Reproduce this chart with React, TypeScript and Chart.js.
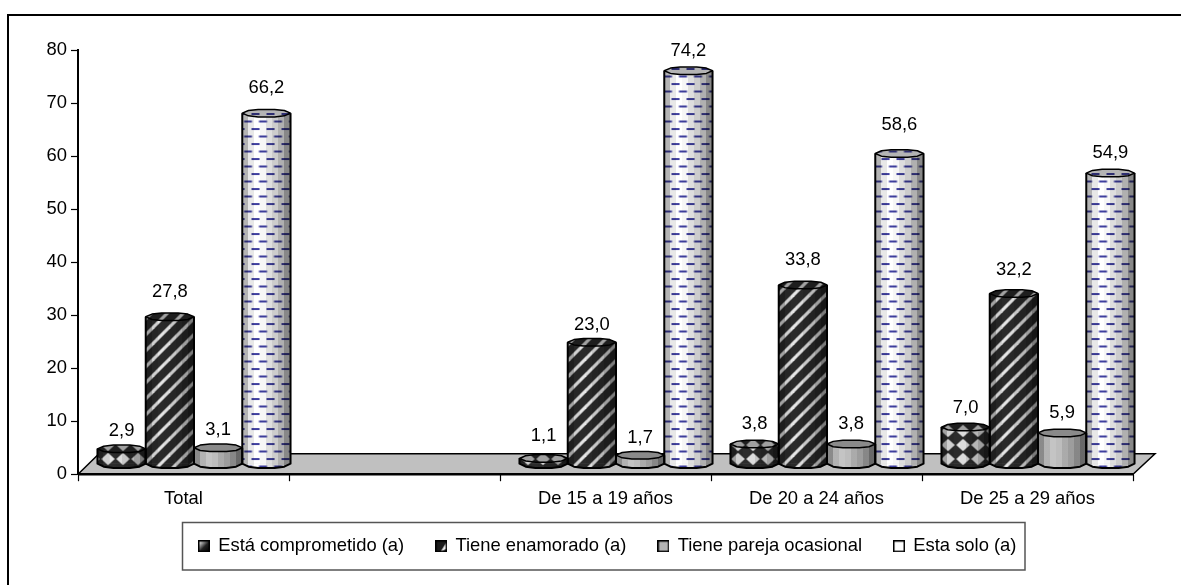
import React, { useEffect, useRef } from "react";
import { Chart, registerables } from "chart.js";

Chart.register(...registerables);

const categories = ["Total", "", "De 15 a 19 años", "De 20 a 24 años", "De 25 a 29 años"];
const comprometido = [2.9, null, 1.1, 3.8, 7.0];
const enamorado = [27.8, null, 23.0, 33.8, 32.2];
const ocasional = [3.1, null, 1.7, 3.8, 5.9];
const solo = [66.2, null, 74.2, 58.6, 54.9];
const seriesNames = ["Está comprometido (a)", "Tiene enamorado (a)", "Tiene pareja ocasional", "Esta solo (a)"];
const yTicks = [0, 10, 20, 30, 40, 50, 60, 70, 80];

const FONT = '"Liberation Sans", Arial, sans-serif';
const FONT_SIZE = 18.4;
const SHIFT_X = 10.5;
const SHIFT_Y = -10;
const RIM = 4;
// Excel places each value label a slightly different distance above its column.
const labelLift = [
  [18, 0, 22, 20, 19],
  [25, 0, 17, 25, 24],
  [18, 0, 17, 20, 20],
  [25, 0, 20, 29, 20],
];
const facets = ["#b4b4b4", "#e8e8e8", "#ffffff", "#f6f6f6", "#dedede", "#cccccc", "#b0b0b0", "#888888"];
const RIM_ANGLES = [0, 42, 70, 110, 138, 180, 222, 250, 290, 318];
const LOWER_ANGLES = [180, 138, 110, 70, 42, 0];

function tile(w: number, h: number, paint: (c: CanvasRenderingContext2D) => void) {
  const el = document.createElement("canvas");
  el.width = w;
  el.height = h;
  paint(el.getContext("2d") as CanvasRenderingContext2D);
  return el;
}

function makePatterns(ctx: CanvasRenderingContext2D) {
  const diamonds = tile(15, 14, (c) => {
    c.fillStyle = "#2c2c2c";
    c.fillRect(0, 0, 15, 14);
    c.fillStyle = "#e4e4e4";
    c.beginPath();
    c.moveTo(7.5, 0.8);
    c.lineTo(14.2, 7);
    c.lineTo(7.5, 13.2);
    c.lineTo(0.8, 7);
    c.closePath();
    c.fill();
  });
  const stripes = tile(16, 16, (c) => {
    c.fillStyle = "#2a2a2a";
    c.fillRect(0, 0, 16, 16);
    c.strokeStyle = "#e6e6e6";
    c.lineWidth = 3.2;
    for (const o of [-16, 0, 16]) {
      c.beginPath();
      c.moveTo(o - 2, 18);
      c.lineTo(o + 18, -2);
      c.stroke();
    }
  });
  const plain = tile(4, 4, (c) => {
    c.fillStyle = "#c4c4c4";
    c.fillRect(0, 0, 4, 4);
  });
  const dashes = tile(15, 15, (c) => {
    c.fillStyle = "#ffffff";
    c.fillRect(0, 0, 15, 15);
    c.fillStyle = "#3f3f9f";
    c.fillRect(1, 3, 8, 2);
    c.fillRect(8.5, 10.5, 6.5, 2);
    c.fillRect(0, 10.5, 1.5, 2);
  });
  return [diamonds, stripes, plain, dashes].map((t) => ctx.createPattern(t, "repeat") as CanvasPattern);
}

function makeIcons() {
  const box = (paint: (c: CanvasRenderingContext2D) => void) =>
    tile(12, 12, (c) => {
      paint(c);
      c.strokeStyle = "#000";
      c.lineWidth = 1.5;
      c.strokeRect(0.75, 0.75, 10.5, 10.5);
    });
  return [
    box((c) => {
      const g = c.createLinearGradient(1, 1, 11, 11);
      g.addColorStop(0, "#ffffff");
      g.addColorStop(0.55, "#222222");
      g.addColorStop(1, "#000000");
      c.fillStyle = g;
      c.fillRect(0, 0, 12, 12);
    }),
    box((c) => {
      c.fillStyle = "#1c1c1c";
      c.fillRect(0, 0, 12, 12);
      c.fillStyle = "#eeeeee";
      c.beginPath();
      c.moveTo(12, 1);
      c.lineTo(12, 8);
      c.lineTo(5, 12);
      c.closePath();
      c.fill();
    }),
    box((c) => {
      c.fillStyle = "#b4b4b4";
      c.fillRect(0, 0, 12, 12);
    }),
    box((c) => {
      c.fillStyle = "#ffffff";
      c.fillRect(0, 0, 12, 12);
    }),
  ];
}

function around(cx: number, cy: number, rx: number, ry: number, degrees: number[]) {
  return degrees.map((d) => {
    const a = (d * Math.PI) / 180;
    return [cx + rx * Math.cos(a), cy + ry * Math.sin(a)] as [number, number];
  });
}

export default function App() {
  const ref = useRef<HTMLCanvasElement>(null);

  useEffect(() => {
    const canvas = ref.current as HTMLCanvasElement;
    const ctx = canvas.getContext("2d") as CanvasRenderingContext2D;
    const patterns = makePatterns(ctx);
    const icons = makeIcons();

    const cylinders = {
      id: "cylinders",
      beforeDraw(chart: any) {
        const c = chart.ctx;
        c.save();
        c.strokeStyle = "#000";
        c.lineWidth = 2;
        c.beginPath();
        c.moveTo(8, 585);
        c.lineTo(8, 15);
        c.lineTo(1181, 15);
        c.stroke();
        c.strokeStyle = "#555";
        c.lineWidth = 1.5;
        c.strokeRect(182.5, 522.5, 842.5, 47.5);
        c.restore();
      },
      afterLayout(chart: any) {
        chart.legend.left = 167;
        chart.legend.top = 505;
      },
      beforeDatasetsDraw(chart: any) {
        const c = chart.ctx;
        const { left, right, bottom } = chart.chartArea;
        c.save();
        c.fillStyle = "#c0c0c0";
        c.beginPath();
        c.moveTo(left, bottom);
        c.lineTo(left + 21, bottom - 20.5);
        c.lineTo(right + 22, bottom - 20.5);
        c.lineTo(right, bottom);
        c.closePath();
        c.fill();
        c.strokeStyle = "#000";
        c.lineWidth = 1.5;
        c.stroke();
        c.lineWidth = 2.5;
        c.beginPath();
        c.moveTo(left, bottom);
        c.lineTo(right, bottom);
        c.stroke();
        c.restore();
        c.save();
        c.translate(SHIFT_X, SHIFT_Y);
      },
      afterDatasetsDraw(chart: any) {
        const c = chart.ctx;
        chart.data.datasets.forEach((ds: any, di: number) => {
          const meta = chart.getDatasetMeta(di);
          meta.data.forEach((bar: any, i: number) => {
            if (ds.data[i] == null) return;
            const rx = bar.width / 2;
            const x0 = bar.x - rx;
            const x1 = bar.x + rx;
            const top = bar.y;
            const base = bar.base;
            const lower = around(bar.x, base, rx, RIM + 0.5, LOWER_ANGLES);

            const trace = () => {
              c.moveTo(x0, top);
              lower.forEach(([px, py]) => c.lineTo(px, py));
              c.lineTo(x1, top);
            };

            c.save();
            // lower front edge of the column carries the same fill as the bar
            c.fillStyle = patterns[di];
            c.beginPath();
            c.moveTo(x0, base - 0.5);
            lower.forEach(([px, py]) => c.lineTo(px, py));
            c.lineTo(x1, base - 0.5);
            c.closePath();
            c.fill();

            // faceted shading
            const g = c.createLinearGradient(x0, 0, x1, 0);
            facets.forEach((col, f) => {
              g.addColorStop(f / facets.length, col);
              g.addColorStop((f + 1) / facets.length - 0.001, col);
            });
            c.globalCompositeOperation = "multiply";
            c.fillStyle = g;
            c.beginPath();
            trace();
            c.closePath();
            c.fill();
            c.globalCompositeOperation = "source-over";

            // side outline and lower edge
            c.strokeStyle = "#000";
            c.lineWidth = 2;
            c.lineJoin = "round";
            c.beginPath();
            trace();
            c.stroke();

            // top rim
            const rimPath = () => {
              c.beginPath();
              around(bar.x, top, rx, RIM, RIM_ANGLES).forEach(([px, py], p) =>
                p ? c.lineTo(px, py) : c.moveTo(px, py)
              );
              c.closePath();
            };
            c.fillStyle = patterns[di];
            rimPath();
            c.fill();
            c.globalCompositeOperation = "multiply";
            c.fillStyle = "#b4b4b4";
            rimPath();
            c.fill();
            c.globalCompositeOperation = "source-over";
            c.lineWidth = 1.5;
            rimPath();
            c.stroke();
            c.restore();
          });
        });
        c.restore();

        // value labels
        c.save();
        c.font = `${FONT_SIZE}px ${FONT}`;
        c.fillStyle = "#000";
        c.textAlign = "center";
        c.textBaseline = "middle";
        chart.data.datasets.forEach((ds: any, di: number) => {
          const meta = chart.getDatasetMeta(di);
          meta.data.forEach((bar: any, i: number) => {
            const v = ds.data[i];
            if (v == null) return;
            c.fillText(
              v.toFixed(1).replace(".", ","),
              bar.x + SHIFT_X,
              bar.y + SHIFT_Y - labelLift[di][i]
            );
          });
        });
        c.restore();
      },
    };

    const seriesValues = [comprometido, enamorado, ocasional, solo];
    const chart = new Chart(ctx, {
      type: "bar",
      data: {
        labels: categories,
        datasets: seriesValues.map((data, i) => ({
          label: seriesNames[i],
          data,
          backgroundColor: patterns[i],
          borderWidth: 0,
          barPercentage: 1,
          categoryPercentage: 0.915,
          clip: false,
        })),
      } as any,
      plugins: [cylinders],
      options: {
        responsive: false,
        animation: false,
        events: [],
        layout: { autoPadding: false, padding: { left: 0, right: 48, top: 50, bottom: 14.4 } },
        scales: {
          x: {
            offset: true,
            afterFit: (s: any) => {
              s.height = 36;
            },
            border: { display: true, color: "#000", width: 2 },
            grid: {
              display: true,
              offset: true,
              drawOnChartArea: false,
              drawTicks: true,
              tickLength: 7,
              tickColor: "#000",
              tickWidth: 1.2,
            },
            ticks: { color: "#000", font: { family: FONT, size: FONT_SIZE }, padding: 7, maxRotation: 0, autoSkip: false },
          },
          y: {
            min: 0,
            max: 80,
            afterFit: (s: any) => {
              s.width = 78;
            },
            afterBuildTicks: (s: any) => {
              s.ticks = yTicks.map((value) => ({ value }));
            },
            border: { display: true, color: "#000", width: 2 },
            grid: {
              display: true,
              drawOnChartArea: false,
              drawTicks: true,
              tickLength: 7,
              tickColor: "#000",
              tickWidth: 1.2,
            },
            ticks: { color: "#000", font: { family: FONT, size: FONT_SIZE }, padding: 4 },
          },
        },
        plugins: {
          title: { display: false },
          tooltip: { enabled: false },
          legend: {
            display: true,
            position: "bottom",
            align: "start",
            labels: {
              color: "#000",
              font: { family: FONT, size: FONT_SIZE },
              padding: 32,
              boxWidth: 10,
              usePointStyle: true,
              pointStyleWidth: 10,
              generateLabels: () =>
                seriesNames.map((text, i) => ({
                  text,
                  pointStyle: icons[i],
                  fillStyle: "#000",
                  strokeStyle: "#000",
                  lineWidth: 0,
                  hidden: false,
                  datasetIndex: i,
                })),
            },
          },
        },
      } as any,
    });
    return () => chart.destroy();
  }, []);

  return (
    <div style={{ position: "fixed", left: 0, top: 0, width: 1181, height: 585, background: "#fff" }}>
      <canvas ref={ref} width={1181} height={585} style={{ display: "block" }} />
    </div>
  );
}
